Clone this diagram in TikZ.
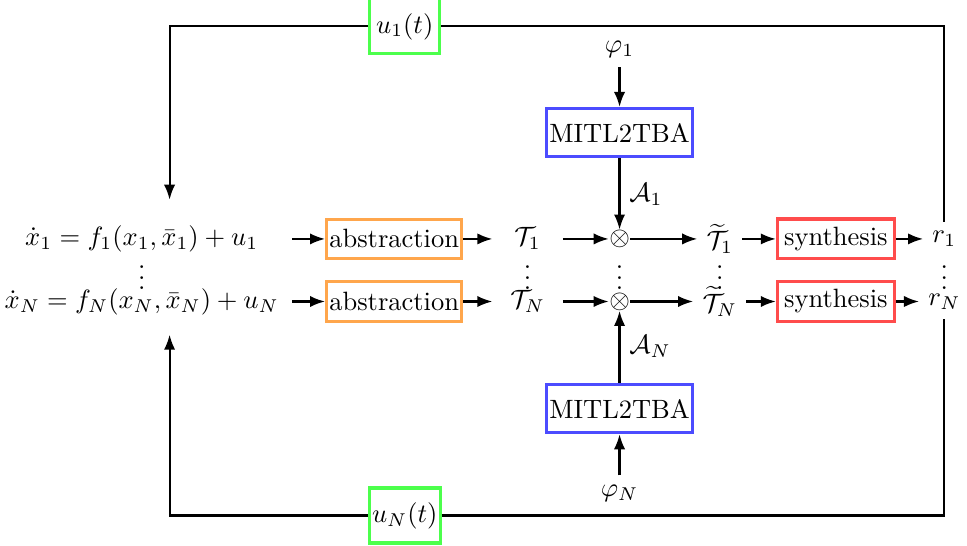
\documentclass[tikz,border=0pt]{standalone}
\usepackage{amsmath,amssymb}
\usetikzlibrary{arrows.meta}

\begin{document}
\begin{tikzpicture}[
box/.style={draw, line width=1.2pt, inner sep=1pt, minimum height=0.52cm},
absbox/.style={box, draw=orange!70},
mitlbox/.style={box, draw=blue!70, minimum height=0.64cm},
synbox/.style={box, draw=red!70, minimum width=1.55cm, minimum height=0.53cm},
ubox/.style={box, draw=green!70, minimum width=0.93cm, minimum height=0.73cm},
eqn/.style={minimum width=3.98cm},
tnode/.style={minimum width=0.92cm},
prod/.style={inner sep=0pt},
dotsnode/.style={inner sep=0pt},
arrow/.style={-{Latex[length=2mm]}, thick},
line/.style={thick}
]
\useasboundingbox (0,0) rectangle (12.83,-7.24);

% agent 1
\node[eqn] (eq1) at (1.88,-3.17) {$\dot x_1 = f_1(x_1,\bar x_1) + u_1$};
\node[absbox] (abs1) at (5.23,-3.17) {abstraction};
\node[tnode] (T1) at (7.00,-3.17) {$\mathcal{T}_1$};
\node[prod] (ot1) at (8.22,-3.17) {$\otimes$};
\node (Tt1) at (9.55,-3.17) {$\widetilde{\mathcal{T}}_1$};
\node[synbox] (syn1) at (11.09,-3.17) {synthesis};
\node (r1) at (12.53,-3.17) {$r_1$};
\node[mitlbox] (mitl1) at (8.22,-1.76) {MITL2TBA};
\node (phi1) at (8.22,-0.66) {$\varphi_1$};
\node[ubox] (u1) at (5.37,-0.35) {$u_1(t)$};

% agent N
\node[eqn] (eqN) at (1.88,-4.0) {$\dot x_N = f_N(x_N,\bar x_N) + u_N$};
\node[absbox] (absN) at (5.23,-4.0) {abstraction};
\node[tnode] (TN) at (7.00,-4.0) {$\mathcal{T}_N$};
\node[prod] (otN) at (8.22,-4.0) {$\otimes$};
\node (TtN) at (9.55,-4.0) {$\widetilde{\mathcal{T}}_N$};
\node[synbox] (synN) at (11.09,-4.0) {synthesis};
\node (rN) at (12.53,-4.0) {$r_N$};
\node[mitlbox] (mitlN) at (8.22,-5.42) {MITL2TBA};
\node (phiN) at (8.22,-6.54) {$\varphi_N$};
\node[ubox] (uN) at (5.37,-6.84) {$u_N(t)$};

% dots
\node[dotsnode] (deq) at (1.88,-3.58) {$\vdots$};
\node[dotsnode] (dT) at (7.00,-3.58) {$\vdots$};
\node[dotsnode] (dot) at (8.22,-3.58) {$\vdots$};
\node[dotsnode] (dTt) at (9.55,-3.58) {$\vdots$};
\node[dotsnode] (dr) at (12.53,-3.58) {$\vdots$};

\coordinate (in1) at (2.25,-2.65);
\coordinate (inN) at (2.25,-4.44);

\draw[arrow] (eq1) -- (abs1);
\draw[arrow] (abs1) -- (T1);
\draw[arrow] (T1) -- (ot1);
\draw[arrow] (ot1) -- (Tt1);
\draw[arrow] (Tt1) -- (syn1);
\draw[arrow] (syn1) -- (r1);
\draw[arrow] (phi1) -- (mitl1);
\draw[arrow] (mitl1) -- node[right] {$\mathcal{A}_1$} (ot1);

\draw[arrow] (eqN) -- (absN);
\draw[arrow] (absN) -- (TN);
\draw[arrow] (TN) -- (otN);
\draw[arrow] (otN) -- (TtN);
\draw[arrow] (TtN) -- (synN);
\draw[arrow] (synN) -- (rN);
\draw[arrow] (phiN) -- (mitlN);
\draw[arrow] (mitlN) -- node[right] {$\mathcal{A}_N$} (otN);

% feedback
\draw[arrow] (u1) -| (in1);
\draw[line] (u1) -| (r1);
\draw[arrow] (uN) -| (inN);
\draw[line] (uN) -| (rN);
\end{tikzpicture}
\end{document}
